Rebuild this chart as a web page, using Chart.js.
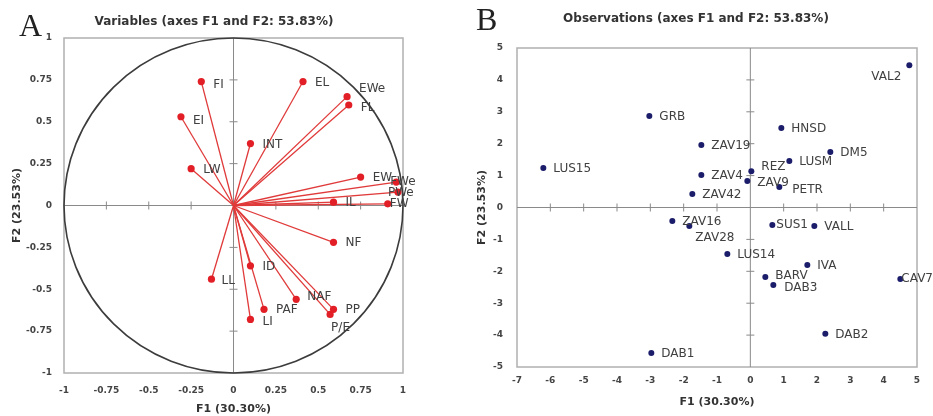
<!DOCTYPE html>
<html>
<head>
<meta charset="utf-8">
<script src="https://cdn.jsdelivr.net/npm/chart.js@4.4.1/dist/chart.umd.min.js"></script>
<style>
  body { margin: 0; background: #fff; }
  #wrap { position: relative; width: 933px; height: 416px; overflow: hidden; }
  .panel { position: absolute; top: 0; height: 416px; }
  .letter { position: absolute; font-family: 'Liberation Serif', 'DejaVu Serif', serif; font-size: 32px; color: #222; }
  .title { position: absolute; font-family: 'DejaVu Sans', sans-serif; font-weight: bold; font-size: 12px; color: #333; white-space: nowrap; transform: translateX(-50%); }
</style>
</head>
<body>
<div id="wrap">
  <div class="panel" style="left:0;width:470px"><canvas id="varChart" width="470" height="416"></canvas></div>
  <div class="panel" style="left:470px;width:463px"><canvas id="obsChart" width="463" height="416"></canvas></div>
  <div class="letter" style="left:19px;top:7px">A</div>
  <div class="letter" style="left:476px;top:1px">B</div>
  <div class="title" style="left:214px;top:14px">Variables (axes F1 and F2: 53.83%)</div>
  <div class="title" style="left:696px;top:11px">Observations (axes F1 and F2: 53.83%)</div>
</div>
<script>
// Panel A - variable loadings
const varNames = ['FI', 'EI', 'LW', 'EL', 'EWe', 'FL', 'INT', 'EW', 'FWe', 'PWe',
                  'IL', 'FW', 'NF', 'ID', 'LL', 'NAF', 'PP', 'P/E', 'PAF', 'LI'];
const varF1 = [-0.19, -0.31, -0.25, 0.41, 0.67, 0.68, 0.10, 0.75, 0.96, 0.97,
               0.59, 0.91, 0.59, 0.10, -0.13, 0.37, 0.59, 0.57, 0.18, 0.10];
const varF2 = [0.74, 0.53, 0.22, 0.74, 0.65, 0.60, 0.37, 0.17, 0.14, 0.08,
               0.02, 0.01, -0.22, -0.36, -0.44, -0.56, -0.62, -0.65, -0.62, -0.68];
const loadTicks = [-1, -0.75, -0.5, -0.25, 0, 0.25, 0.5, 0.75, 1];

// Panel B - observation scores
const obsNames = ['VAL2', 'GRB', 'HNSD', 'ZAV19', 'DM5', 'LUSM', 'LUS15', 'ZAV4', 'REZ', 'ZAV9',
                  'PETR', 'ZAV42', 'ZAV16', 'ZAV28', 'SUS1', 'VALL', 'LUS14', 'IVA', 'BARV', 'DAB3',
                  'CAV7', 'DAB2', 'DAB1'];
const obsF1 = [4.77, -3.03, 0.93, -1.47, 2.40, 1.17, -6.21, -1.47, 0.03, -0.09,
               0.87, -1.74, -2.34, -1.83, 0.66, 1.92, -0.69, 1.71, 0.45, 0.69,
               4.50, 2.25, -2.97];
const obsF2 = [4.46, 2.87, 2.49, 1.96, 1.74, 1.46, 1.24, 1.02, 1.14, 0.83,
               0.64, 0.42, -0.42, -0.58, -0.55, -0.58, -1.46, -1.80, -2.18, -2.43,
               -2.24, -3.96, -4.56];
const scoreXTicks = [-7, -6, -5, -4, -3, -2, -1, 0, 1, 2, 3, 4, 5];
const scoreYTicks = [-5, -4, -3, -2, -1, 0, 1, 2, 3, 4, 5];

// label nudges (pixels) where the default right-side position doesn't fit
const varShift = {
  'EWe': [12, -8], 'FL': [12, 3], 'FWe': [-6, 0], 'PWe': [-10, 1], 'FW': [2, 0],
  'NAF': [11, -2], 'P/E': [1, 13], 'LL': [10, 2], 'EI': [12, 4], 'FI': [12, 3], 'LI': [12, 2]
};
const obsShift = {
  'VAL2': [-38, 12], 'REZ': [10, -4], 'ZAV9': [10, 2], 'PETR': [13, 3], 'ZAV28': [6, 12],
  'SUS1': [4, 0], 'DAB3': [11, 3], 'CAV7': [1, 0], 'BARV': [10, -1]
};

const LABEL_FONT = "12px 'DejaVu Sans', sans-serif";
const tickFont = { family: "'DejaVu Sans', sans-serif", size: 9, weight: 'bold' };
const titleFont = { family: "'DejaVu Sans', sans-serif", size: 11, weight: 'bold' };

// frame, zero axes with small cross ticks, optional correlation circle, point labels
const decorPlugin = {
  id: 'decor',
  beforeDatasetsDraw(chart, args, opts) {
    const { ctx, chartArea: a, scales: { x, y } } = chart;
    const x0 = x.getPixelForValue(0), y0 = y.getPixelForValue(0);
    ctx.save();
    ctx.strokeStyle = '#b0b0b0';
    ctx.lineWidth = 1.5;
    ctx.strokeRect(a.left, a.top, a.right - a.left, a.bottom - a.top);

    ctx.strokeStyle = '#8a8a8a';
    ctx.lineWidth = 1;
    ctx.beginPath();
    ctx.moveTo(a.left, y0); ctx.lineTo(a.right, y0);
    ctx.moveTo(x0, a.top); ctx.lineTo(x0, a.bottom);
    x.ticks.forEach(t => {
      if (t.value === 0 || t.value === x.min || t.value === x.max) return;
      const px = x.getPixelForValue(t.value);
      ctx.moveTo(px, y0 - 4); ctx.lineTo(px, y0 + 4);
    });
    y.ticks.forEach(t => {
      if (t.value === 0 || t.value === y.min || t.value === y.max) return;
      const py = y.getPixelForValue(t.value);
      ctx.moveTo(x0 - 4, py); ctx.lineTo(x0 + 4, py);
    });
    ctx.stroke();

    if (opts.circle) {
      const rx = x.getPixelForValue(1) - x0;
      const ry = y0 - y.getPixelForValue(1);
      ctx.strokeStyle = '#3c3c3c';
      ctx.lineWidth = 1.6;
      ctx.beginPath();
      ctx.ellipse(x0, y0, rx, ry, 0, 0, Math.PI * 2);
      ctx.stroke();
    }
    ctx.restore();
  },
  afterDatasetsDraw(chart, args, opts) {
    const { ctx, scales: { x, y } } = chart;
    ctx.save();
    ctx.font = LABEL_FONT;
    ctx.fillStyle = '#404040';
    ctx.textBaseline = 'middle';
    ctx.textAlign = 'left';
    opts.points(chart).forEach(p => {
      const s = opts.shift[p.name] || [opts.dx, 1];
      ctx.fillText(p.name, x.getPixelForValue(p.x) + s[0], y.getPixelForValue(p.y) + s[1]);
    });
    ctx.restore();
  }
};

function axis(min, max, ticks, title, tickPad, titlePad, size, horizontal) {
  return {
    type: 'linear', min: min, max: max,
    grid: { display: false, drawTicks: false },
    border: { display: false },
    afterBuildTicks: s => { s.ticks = ticks.map(v => ({ value: v })); },
    afterFit: s => { if (horizontal) s.height = size; else s.width = size; },
    ticks: { color: '#444', font: tickFont, padding: tickPad, maxRotation: 0, autoSkip: false,
             callback: v => String(v) },
    title: { display: true, text: title, color: '#333', font: titleFont, padding: titlePad }
  };
}

new Chart(document.getElementById('varChart'), {
  type: 'scatter',
  data: {
    datasets: varNames.map((n, i) => ({
      label: n,
      data: [{ x: 0, y: 0 }, { x: varF1[i], y: varF2[i] }],
      showLine: true,
      borderColor: '#e03a3a',
      borderWidth: 1.3,
      pointRadius: [0, 3.6],
      pointBackgroundColor: '#e21f26',
      pointBorderWidth: 0
    }))
  },
  options: {
    responsive: false,
    animation: false,
    layout: { padding: { top: 38, right: 67, left: 0, bottom: 0 } },
    scales: {
      x: axis(-1, 1, loadTicks, 'F1 (30.30%)', 12, { top: 0, bottom: 0 }, 43, true),
      y: axis(-1, 1, loadTicks, 'F2 (23.53%)', 12, { top: 11, bottom: 0 }, 64, false)
    },
    plugins: {
      legend: { display: false },
      tooltip: { enabled: false },
      decor: {
        circle: true, dx: 12, shift: varShift,
        points: () => varNames.map((n, i) => ({ name: n, x: varF1[i], y: varF2[i] }))
      }
    }
  },
  plugins: [decorPlugin]
});

new Chart(document.getElementById('obsChart'), {
  type: 'scatter',
  data: {
    datasets: [{
      label: 'Observations',
      data: obsNames.map((n, i) => ({ x: obsF1[i], y: obsF2[i] })),
      pointRadius: 3,
      pointBackgroundColor: '#1b1d6b',
      pointBorderWidth: 0
    }]
  },
  options: {
    responsive: false,
    animation: false,
    layout: { padding: { top: 48, right: 16, left: 0, bottom: 0 } },
    scales: {
      x: axis(-7, 5, scoreXTicks, 'F1 (30.30%)', 8, { top: 0, bottom: 7 }, 49, true),
      y: axis(-5, 5, scoreYTicks, 'F2 (23.53%)', 14, { top: 6, bottom: 0 }, 47, false)
    },
    plugins: {
      legend: { display: false },
      tooltip: { enabled: false },
      decor: {
        circle: false, dx: 10, shift: obsShift,
        points: () => obsNames.map((n, i) => ({ name: n, x: obsF1[i], y: obsF2[i] }))
      }
    }
  },
  plugins: [decorPlugin]
});
</script>
</body>
</html>
